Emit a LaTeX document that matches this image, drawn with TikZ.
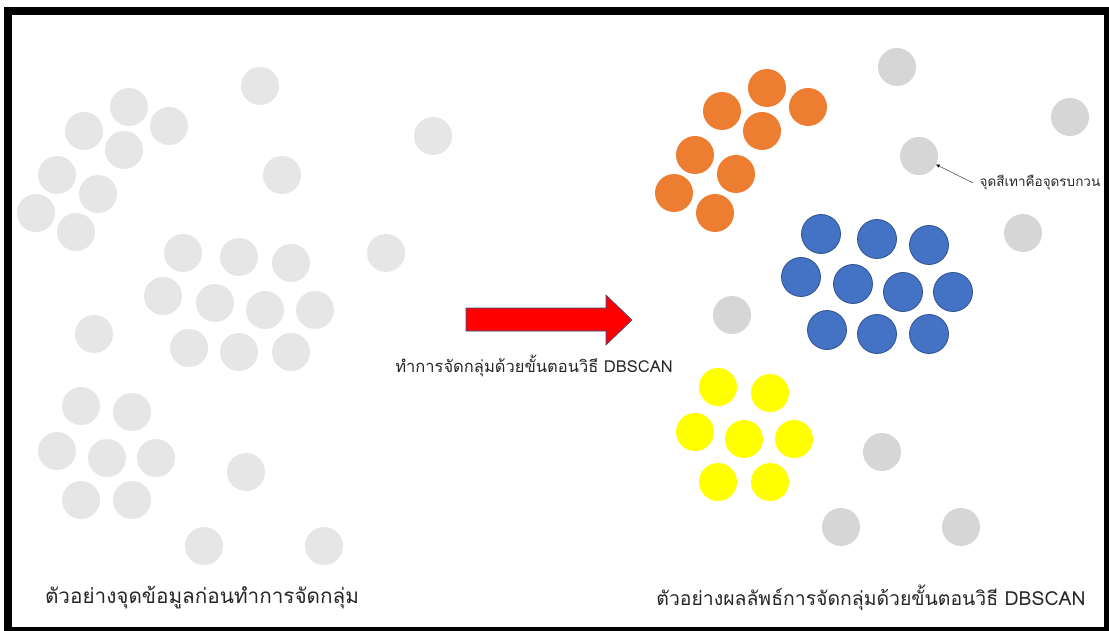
\documentclass[tikz,border=0pt]{standalone}
\usepackage{fontspec}
\newfontfamily\thaifont[Script=Thai]{Loma}
\usepackage{xcolor}
\definecolor{ptgray}{HTML}{E6E6E6}
\definecolor{noisegray}{HTML}{D6D6D6}
\definecolor{clorange}{HTML}{ED7D31}
\definecolor{clblue}{HTML}{4472C4}
\definecolor{clblueline}{HTML}{2F528F}
\definecolor{clyellow}{HTML}{FFFF00}
\usetikzlibrary{arrows}

\begin{document}
\begin{tikzpicture}[x=1pt,y=-1pt,>=stealth',semithick]
  \tikzstyle{every node}=[font=\thaifont,text=black!85]
  \tikzstyle{dot}=[circle,minimum size=38pt,inner sep=0pt]
  \tikzstyle{rawpt}=[dot,fill=ptgray]
  \tikzstyle{noisept}=[dot,fill=noisegray]
  \tikzstyle{orangept}=[dot,fill=clorange]
  \tikzstyle{bluept}=[dot,fill=clblue,draw=clblueline,line width=0.8pt,minimum size=39pt]
  \tikzstyle{yellowpt}=[dot,fill=clyellow]
  \tikzstyle{bigarrow}=[fill=red,draw=clblueline,line width=0.6pt]

  % frame
  \useasboundingbox (0,0) rectangle (1109,631);
  \fill[black] (4,7) rectangle (1109,631);
  \fill[white] (12,15) rectangle (1104,627);

  % data before clustering
  \foreach \x/\y [count=\i] in {129/107,84/131,169/126,124/150,57/175,98/194,36/213,76/232,
      260/86,433/136,282/175,386/253,94/334,
      183/253,239/257,291/263,163/296,215/303,265/310,315/310,189/348,239/352,291/352,
      81/406,132/412,57/451,107/458,156/458,81/500,132/500,
      246/472,204/546,324/546}
    \node[rawpt] (r\i) at (\x,\y) {};

  % result of DBSCAN
  \foreach \x/\y [count=\i] in {767/88,722/111,808/107,762/131,695/155,736/174,674/193,715/213}
    \node[orangept] (o\i) at (\x,\y) {};
  \foreach \x/\y [count=\i] in {821/234,877/239,929/245,801/277,853/284,903/292,953/292,
      827/330,877/334,929/334}
    \node[bluept] (b\i) at (\x,\y) {};
  \foreach \x/\y [count=\i] in {718/387,770/393,695/432,744/439,794/439,718/482,770/482}
    \node[yellowpt] (y\i) at (\x,\y) {};
  \foreach \x/\y [count=\i] in {897/67,1070/117,919/156,1023/233,732/315,882/452,841/527,961/527}
    \node[noisept] (n\i) at (\x,\y) {};

  \draw[bigarrow] (466,308) -- (606,308) -- (606,295) -- (632,320)
    -- (606,345) -- (606,331) -- (466,331) -- cycle;

  \node[font=\thaifont\fontsize{16.5}{19}\selectfont] (step) at (534,366)
    {ทำการจัดกลุ่มด้วยขั้นตอนวิธี DBSCAN};
  \node[font=\thaifont\fontsize{13.5}{16}\selectfont,anchor=west] (note) at (976,183)
    {จุดสีเทาคือจุดรบกวน};
  \draw[->,thin] (note.west) ++(-3,0) -- (n3);

  \node[font=\thaifont\fontsize{20.7}{24}\selectfont] (before) at (202,598)
    {ตัวอย่างจุดข้อมูลก่อนทำการจัดกลุ่ม};
  \node[font=\thaifont\fontsize{19.4}{23}\selectfont] (after) at (871,598)
    {ตัวอย่างผลลัพธ์การจัดกลุ่มด้วยขั้นตอนวิธี DBSCAN};
\end{tikzpicture}
\end{document}
